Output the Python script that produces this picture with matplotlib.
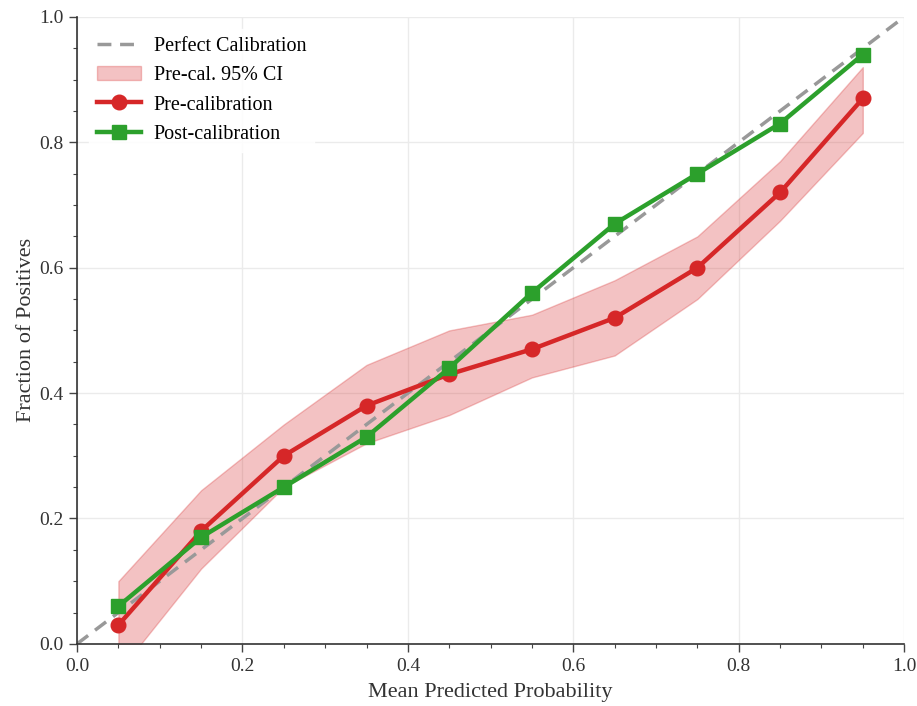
import matplotlib
matplotlib.use("Agg")
import matplotlib.pyplot as plt
from matplotlib.ticker import MultipleLocator

plt.rcParams["font.family"] = ["Liberation Serif", "DejaVu Serif"]

bin_centers = [0.05, 0.15, 0.25, 0.35, 0.45, 0.55, 0.65, 0.75, 0.85, 0.95]
pre_cal = [0.03, 0.18, 0.30, 0.38, 0.43, 0.47, 0.52, 0.60, 0.72, 0.87]
post_cal = [0.06, 0.17, 0.25, 0.33, 0.44, 0.56, 0.67, 0.75, 0.83, 0.94]
ci_low = [-0.045, 0.12, 0.25, 0.32, 0.365, 0.425, 0.46, 0.55, 0.675, 0.815]
ci_high = [0.10, 0.245, 0.35, 0.445, 0.50, 0.525, 0.58, 0.65, 0.77, 0.92]

RED = "#d62728"
GREEN = "#2ca02c"

fig = plt.figure(figsize=(9.17, 7.06), dpi=100)
ax = fig.add_axes([0.084, 0.088, 0.902, 0.888])

ax.plot([0, 1], [0, 1], linestyle="--", color="#999999", linewidth=2.5,
        dashes=(4, 2.5), label="Perfect Calibration", zorder=2)
ax.fill_between(bin_centers, ci_low, ci_high, color=RED, alpha=0.28,
                edgecolor=RED, linewidth=1.0, label="Pre-cal. 95% CI", zorder=1)
ax.plot(bin_centers, pre_cal, "-o", color=RED, linewidth=3.2, markersize=10.5,
        label="Pre-calibration", zorder=3)
ax.plot(bin_centers, post_cal, "-s", color=GREEN, linewidth=3.2, markersize=10.5,
        label="Post-calibration", zorder=4)

ax.set_xlim(0, 1)
ax.set_ylim(0, 1)
ax.xaxis.set_major_locator(MultipleLocator(0.2))
ax.yaxis.set_major_locator(MultipleLocator(0.2))
ax.xaxis.set_minor_locator(MultipleLocator(0.05))
ax.yaxis.set_minor_locator(MultipleLocator(0.05))
ax.tick_params(which="major", length=6, width=1.0, color="#444444", labelsize=14,
               labelcolor="#333333", pad=4)
ax.tick_params(which="minor", length=3, width=0.8, color="#444444")
ax.grid(True, which="major", color="#ebebeb", linewidth=1.0)
ax.set_axisbelow(True)

for side in ["top", "right"]:
    ax.spines[side].set_visible(False)
for side in ["left", "bottom"]:
    ax.spines[side].set_color("#333333")
    ax.spines[side].set_linewidth(1.2)

ax.set_xlabel("Mean Predicted Probability", fontsize=16, color="#333333", labelpad=6)
ax.set_ylabel("Fraction of Positives", fontsize=16, color="#333333", labelpad=2)

leg = ax.legend(loc="upper left", fontsize=14.5, frameon=True, edgecolor="white",
                facecolor="white", framealpha=0.9, handlelength=2.2,
                handletextpad=0.6, borderaxespad=0.6, labelspacing=0.5)

fig.savefig("out.png", dpi=100)
